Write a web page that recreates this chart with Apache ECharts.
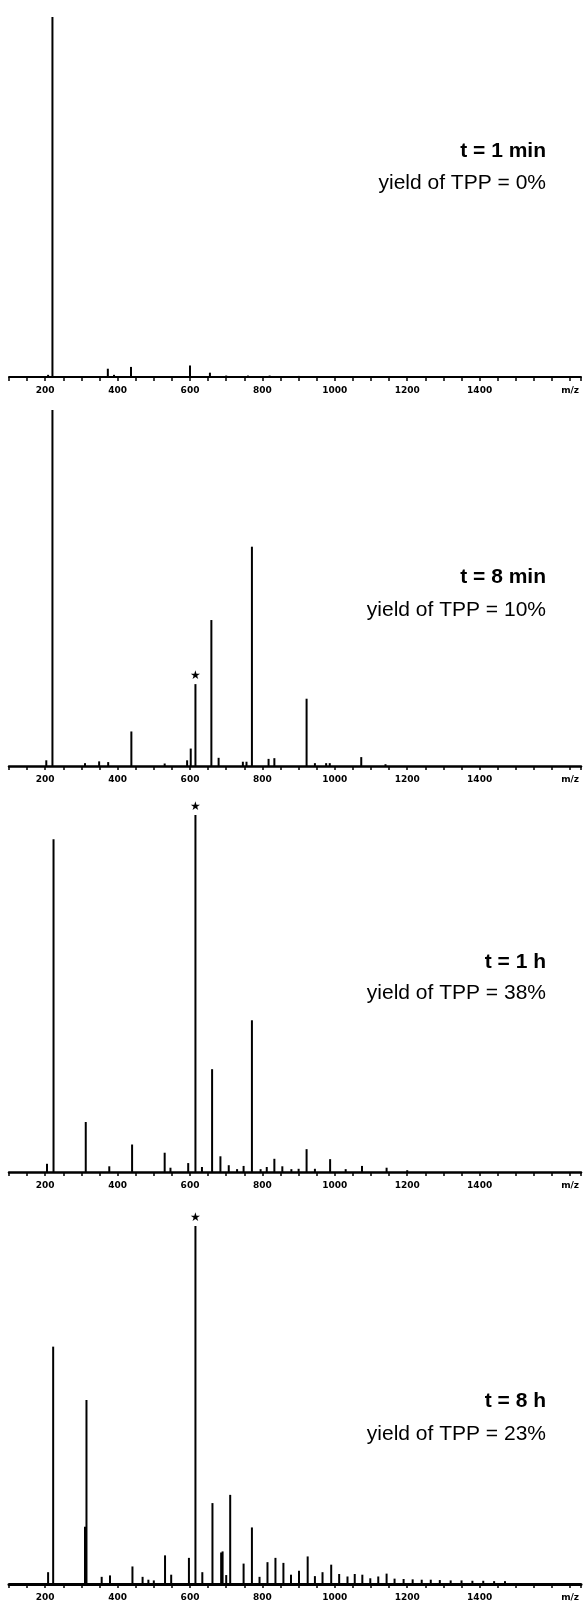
<!DOCTYPE html>
<html>
<head>
<meta charset="utf-8">
<script src="https://cdn.jsdelivr.net/npm/echarts@6/dist/echarts.min.js"></script>
<style>
html,body{margin:0;padding:0;background:#fff;}
#chart{width:584px;height:1605px;}
</style>
</head>
<body>
<div id="chart"></div>
<script>
// ---- data (m/z, relative intensity %) ----
const tickLabels = [200, 400, 600, 800, 1000, 1200, 1400];
const axisUnitLabel = 'm/z';
const tppMz = 615;

const panelTimes = ['t = 1 min', 't = 8 min', 't = 1 h', 't = 8 h'];
const panelYields = ['yield of TPP = 0%', 'yield of TPP = 10%', 'yield of TPP = 38%', 'yield of TPP = 23%'];

const p1Mz  = [208, 220, 373, 390, 437, 600, 655, 700, 760, 820, 900];
const p1Int = [0.6, 100, 2.3, 0.6, 2.8, 3.2, 1.2, 0.4, 0.4, 0.4, 0.3];

const p2Mz  = [203, 220, 310, 349, 374, 438, 530, 592, 602, 615, 659, 679, 746, 756, 771, 817, 833, 922, 945, 976, 986, 1073, 1140];
const p2Int = [1.6, 100, 0.8, 1.3, 1.1, 9.7, 0.7, 1.6, 4.9, 23, 41, 2.3, 1.2, 1.2, 61.6, 2.0, 2.2, 18.9, 0.8, 0.8, 0.8, 2.5, 0.5];

const p3Mz  = [205, 223, 312, 377, 440, 530, 546, 595, 615, 633, 661, 684, 707, 730, 748, 771, 795, 812, 833, 855, 880, 900, 922, 945, 987, 1030, 1075, 1143, 1200];
const p3Int = [2.3, 93.2, 14, 1.6, 7.7, 5.4, 1.2, 2.5, 100, 1.4, 28.8, 4.4, 1.9, 0.8, 1.7, 42.5, 0.8, 1.4, 3.7, 1.6, 0.8, 0.9, 6.4, 0.9, 3.6, 0.8, 1.7, 1.2, 0.5];

const p4Mz  = [208, 222, 310, 314, 356, 379, 441, 469, 485, 500, 531, 548, 597, 615, 634, 662, 686, 690, 700, 711, 748, 771, 792, 814, 836, 858, 879, 901, 925, 945, 966, 990, 1012, 1035, 1055, 1076, 1098, 1120, 1143, 1165, 1190, 1215, 1240, 1265, 1290, 1320, 1350, 1380, 1410, 1440, 1470];
const p4Int = [3.3, 66.3, 16, 51.4, 2.0, 2.4, 4.9, 2.0, 1.2, 1.0, 8.0, 2.6, 7.3, 100, 3.3, 22.6, 8.8, 9.1, 2.5, 24.9, 5.7, 15.8, 2.0, 6.1, 7.3, 5.9, 2.6, 3.7, 7.7, 2.2, 3.3, 5.4, 2.8, 2.1, 2.8, 2.6, 1.6, 2.1, 2.9, 1.5, 1.4, 1.3, 1.2, 1.2, 1.1, 1.0, 1.0, 0.9, 0.9, 0.8, 0.8];

const panels = [
  {mz: p1Mz, int: p1Int},
  {mz: p2Mz, int: p2Int},
  {mz: p3Mz, int: p3Int},
  {mz: p4Mz, int: p4Int}
];

// ---- layout ----
const gridTops = [17, 410, 815, 1226];
const gridHeights = [360, 356, 357, 358];
const axisWidths = [2, 2.5, 2.5, 3];
const titleCenters = [[151, 183], [577, 610], [962, 993], [1401, 1434]];
const starPanels = [false, true, true, true];

const chart = echarts.init(document.getElementById('chart'), null, {renderer: 'canvas'});

const grids = [], xAxes = [], yAxes = [], series = [], titles = [];
panels.forEach((p, i) => {
  grids.push({left: 9, right: 0, top: gridTops[i], height: gridHeights[i], containLabel: false});
  xAxes.push({
    type: 'value', gridIndex: i, min: 100, max: 1680, interval: 50,
    axisLine: {show: true, onZero: false, lineStyle: {color: '#000', width: axisWidths[i]}},
    axisTick: {show: true, length: 4, lineStyle: {color: '#000', width: 1.5}},
    splitLine: {show: false},
    axisLabel: {
      show: true, margin: 9, color: '#000', fontFamily: 'DejaVu Sans', fontWeight: 'bold', fontSize: 9,
      formatter: v => tickLabels.indexOf(v) >= 0 ? String(v) : (v === 1650 ? axisUnitLabel : '')
    }
  });
  yAxes.push({type: 'value', gridIndex: i, min: 0, max: 100, show: false});
  const data = p.mz.map((m, j) => {
    const item = {value: [m, p.int[j]]};
    if (starPanels[i] && m === tppMz) {
      item.label = {show: true, position: 'top', distance: 2, formatter: '★', fontSize: 12,
        fontFamily: 'DejaVu Sans', color: '#000'};
    }
    return item;
  });
  series.push({
    type: 'bar', xAxisIndex: i, yAxisIndex: i, data: data, barWidth: 2,
    itemStyle: {color: '#000'}, silent: true
  });
  titles.push({
    text: panelTimes[i], right: 38, top: titleCenters[i][0] - 12, padding: 0,
    textStyle: {fontFamily: 'Liberation Sans', fontWeight: 'bold', fontSize: 21, lineHeight: 24, color: '#000'}
  });
  titles.push({
    text: panelYields[i], right: 38, top: titleCenters[i][1] - 12, padding: 0,
    textStyle: {fontFamily: 'Liberation Sans', fontWeight: 'normal', fontSize: 21, lineHeight: 24, color: '#000'}
  });
});

chart.setOption({
  animation: false,
  backgroundColor: '#fff',
  title: titles,
  grid: grids,
  xAxis: xAxes,
  yAxis: yAxes,
  series: series
});
</script>
</body>
</html>
